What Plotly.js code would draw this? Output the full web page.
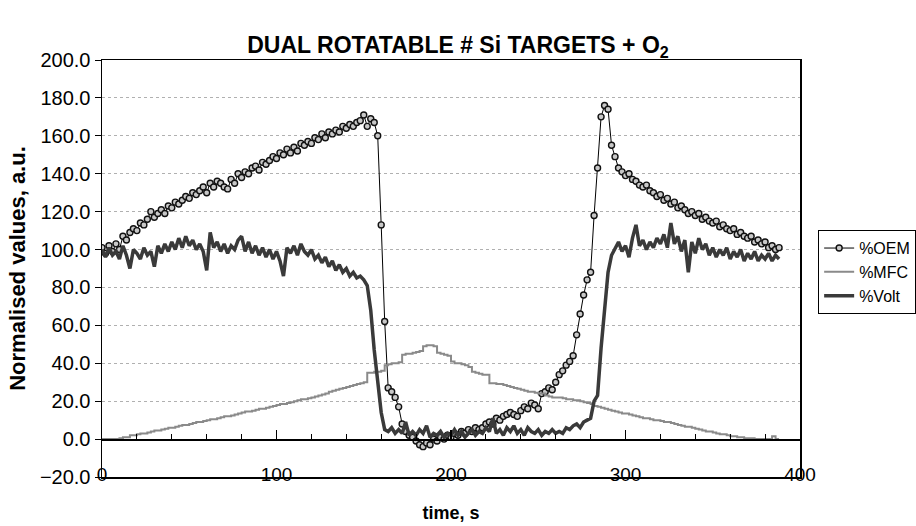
<!DOCTYPE html>
<html>
<head>
<meta charset="utf-8">
<script src="https://cdn.plot.ly/plotly-3.0.1.min.js"></script>
<style>html,body{margin:0;padding:0;background:#fff}#chart{width:916px;height:526px}</style>
</head>
<body>
<div id="chart"></div>
<script>
const timeS = [0,2,4,6,8,10,12,14,16,18,20,22,24,26,28,30,32,34,36,38,40,42,44,46,48,50,52,54,56,58,60,62,64,66,68,70,72,74,76,78,80,82,84,86,88,90,92,94,96,98,100,102,104,106,108,110,112,114,116,118,120,122,124,126,128,130,132,134,136,138,140,142,144,146,148,150,152,154,156,158,160,162,164,166,168,170,172,174,176,178,180,182,184,186,188,190,192,194,196,198,200,202,204,206,208,210,212,214,216,218,220,222,224,226,228,230,232,234,236,238,240,242,244,246,248,250,252,254,256,258,260,262,264,266,268,270,272,274,276,278,280,282,284,286,288,290,292,294,296,298,300,302,304,306,308,310,312,314,316,318,320,322,324,326,328,330,332,334,336,338,340,342,344,346,348,350,352,354,356,358,360,362,364,366,368,370,372,374,376,378,380,382,384,386,388];

const oem = [101,98,102,99,103,100,107,105,109,111,110,114,113,116,120,117,119,121,119,123,122,125,124,126,128,127,130,129,131,133,130,135,133,136,135,133,132,137,135,140,138,141,140,143,144,142,146,145,147,149,148,151,150,153,151,154,152,156,155,157,156,159,158,161,159,162,161,163,162,165,164,166,165,167,168,171,165,169,167,160,113,62,27,25,22,17,8,4,2,1,-1,-3,-4,-2,-3,0,-1,1,0,2,1,3,2,4,3,5,4,6,5,6,8,9,8,11,10,12,13,14,13,12,15,17,16,19,18,16,24,25,27,26,30,34,36,39,41,44,55,66,76,84,88,118,143,170,176,174,155,149,143,141,139,140,137,136,134,133,134,131,130,128,129,126,127,124,125,122,123,121,119,120,118,119,116,117,115,114,115,112,113,111,110,111,108,109,107,106,107,104,105,103,104,101,102,100,101];

const mfc = [0,0,0,0,0,0.5,1,1,2,2,2.5,3,3,3.5,4,4.5,4.5,5,5.5,6,6,6.5,7,7.5,7.5,8,8.5,9,9,9.5,10,10.5,10.5,11,11.5,12,12,12.5,13,13.5,14,14.5,14.5,15,15.5,16,16,16.5,17,17.5,18,18.5,18.5,19,19.5,20,20.5,21,21,21.5,22,22.5,23,23.5,24,25,25.5,26,26.5,27,27.5,28,28.5,29,29.5,30,35,35,35.5,35.5,36,39,39.5,40,40,40.5,44.5,45,45,45.5,46,46.5,49,49.5,49.5,49,45.5,45,44.5,44,41,40,40,39.5,39,38,35.5,35,34.5,34,34,29.5,29.5,29,29,28.5,28,27.5,27,26.5,26,25.5,25,25,24.5,24,24,23,22.5,22,22,22,21.5,21,21,20.5,20.5,20,19.5,19,18.5,17.5,17,16.5,16,15.5,15,14.5,14,13.5,13.5,13,12.5,12,11.5,11,11,10.5,10,10,9.5,9,9,8.5,8,7.5,7,6.5,6.5,6,5.5,5,4.5,4,4,3.5,3,2.5,2.5,2,1.5,1.5,1,1,0.5,0.5,0.5,0,0,0,0,0,1.5,0,0];

const volt = [100,96,101,97,99,95,102,97,90,100,98,95,101,97,99,91,102,98,103,99,104,100,106,101,107,102,105,100,103,99,89,109,101,104,99,103,98,102,100,105,107,99,104,98,102,97,101,96,100,95,99,94,86,101,98,102,97,103,99,97,100,95,97,93,96,91,94,89,92,88,90,86,88,85,86,84,81,68,47,32,14,5,4,6,3,5,3,9,2,4,2,5,3,7,1,3,2,4,1,3,2,5,2,4,1,3,5,2,4,3,6,4,11,3,5,2,6,4,7,3,5,2,6,4,3,5,2,4,3,5,3,4,3,6,5,7,8,6,9,10,11,20,23,48,68,88,97,101,104,99,102,96,106,113,102,105,100,104,101,106,103,108,101,114,103,107,99,105,88,104,98,106,100,103,97,101,96,100,97,101,95,99,96,100,94,98,95,99,94,97,95,98,94,97,95];

const xTicks = [0,100,200,300,400];
const yTicks = [-20,0,20,40,60,80,100,120,140,160,180,200];

const FONT = 'Liberation Sans, Arial, sans-serif';

const traces = [
  {x: timeS, y: oem, name: '%OEM', type: 'scatter', mode: 'lines+markers',
   line: {color: '#000', width: 1},
   marker: {symbol: 'circle', size: 6, color: '#c8c8c8', line: {color: '#111', width: 1.4}}},
  {x: timeS, y: mfc, name: '%MFC', type: 'scatter', mode: 'lines',
   line: {color: '#8a8a8a', width: 2, shape: 'hv'}},
  {x: timeS, y: volt, name: '%Volt', type: 'scatter', mode: 'lines',
   line: {color: '#3a3a3a', width: 3.5}},
  {x: [0, 400], y: [0, 0], xaxis: 'x2', yaxis: 'y', mode: 'lines', hoverinfo: 'skip',
   showlegend: false, line: {color: 'rgba(0,0,0,0)', width: 0}}
];

const layout = {
  width: 916, height: 526,
  margin: {l: 102, r: 116, t: 60, b: 49, autoexpand: false},
  paper_bgcolor: '#fff', plot_bgcolor: '#fff',
  font: {family: FONT, color: '#000', size: 16},
  title: {text: '<b>DUAL ROTATABLE # Si TARGETS + O<sub>2</sub></b>', x: 0.5, xanchor: 'center', y: 0.915, yanchor: 'middle',
          font: {family: FONT, size: 23, color: '#000'}},
  xaxis: {range: [0, 400], tickvals: xTicks, ticktext: xTicks.map(String), showgrid: false, zeroline: false,
          showline: true, linecolor: '#000', linewidth: 1.5, mirror: true, ticks: '',
          ticklabelstandoff: -20, automargin: false,
          tickfont: {family: FONT, size: 19, color: '#000'},
          title: {text: '<b>time, s</b>', font: {family: FONT, size: 18, color: '#000'}, standoff: 22}},
  xaxis2: {range: [0, 400], overlaying: 'x', anchor: 'free', position: 20/220, side: 'bottom',
           showline: true, linecolor: '#000', linewidth: 1.5, showgrid: false, zeroline: false,
           ticks: 'inside', ticklen: 9, tickwidth: 1.2, tickcolor: '#000', dtick: 100, tick0: 0,
           showticklabels: false,
           minor: {ticks: 'inside', ticklen: 5, tickwidth: 1, tickcolor: '#000', dtick: 20}},
  yaxis: {range: [-20, 200], tickvals: yTicks, tickformat: '.1f', showgrid: true, gridcolor: '#b0b0b0',
          griddash: 'dot', gridwidth: 1, zeroline: false, showline: true, linecolor: '#000', linewidth: 1.5,
          mirror: true, ticks: 'outside', ticklen: 6, tickcolor: '#000', tickwidth: 1, automargin: false,
          tickfont: {family: FONT, size: 20, color: '#000'},
          title: {text: '<b>Normalised values, a.u.</b>', font: {family: FONT, size: 22, color: '#000'}, standoff: 8}},
  legend: {x: 1.026, xanchor: 'left', y: 0.592, yanchor: 'top', bordercolor: '#000', borderwidth: 1,
           bgcolor: '#fff', font: {family: FONT, size: 16, color: '#000'}, itemwidth: 30, tracegroupgap: 0},
  showlegend: true
};

Plotly.newPlot('chart', traces, layout, {displayModeBar: false, staticPlot: true});
</script>
</body>
</html>
